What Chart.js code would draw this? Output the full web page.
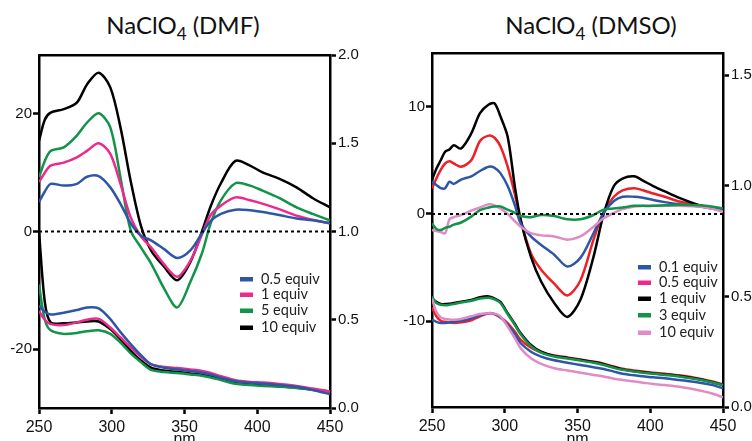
<!DOCTYPE html>
<html>
<head>
<meta charset="utf-8">
<script src="https://cdn.jsdelivr.net/npm/chart.js@4.4.0/dist/chart.umd.min.js"></script>
<style>
  body { margin: 0; background: #fff; }
  #wrap { position: relative; width: 752px; height: 441px; overflow: hidden; }
  canvas { position: absolute; top: 0; }
  .title { position: absolute; top: 10px; font-family: Lato, sans-serif; font-size: 24px; color: #111;
           white-space: nowrap; transform: translateX(-50%); line-height: normal; }
  .title sub { font-size: 17px; vertical-align: -6px; line-height: 0; }
</style>
</head>
<body>
<div id="wrap">
  <div class="title" style="left:183px">NaClO<sub>4</sub> (DMF)</div>
  <div class="title" style="left:591px">NaClO<sub>4</sub> (DMSO)</div>
  <canvas id="dmf" width="376" height="441" style="left:0"></canvas>
  <canvas id="dmso" width="376" height="441" style="left:376px"></canvas>
</div>
<script>
// ---- DMF panel (wavelength grid, CD in mdeg on left axis, absorbance on right axis)
const dmfNm = [250, 254, 258, 267, 276, 283, 291, 299, 306, 313, 320, 327, 336, 345, 354, 362, 368, 375, 385, 395, 404, 415, 427, 438, 450];
const dmfCd05 = [5.0, 6.8, 8.1, 7.8, 8.1, 9.3, 9.4, 7.5, 4.7, 1.4, -0.7, -1.5, -3.0, -4.5, -3.2, -0.3, 1.8, 3.0, 3.7, 3.6, 3.3, 2.8, 2.2, 1.9, 1.4];
const dmfCd1 = [8.4, 10.0, 11.2, 11.7, 12.6, 13.7, 15.0, 13.2, 8.1, 2.4, -0.8, -2.7, -5.6, -7.7, -5.0, -0.5, 2.8, 4.4, 5.8, 5.3, 4.7, 3.8, 2.7, 2.0, 1.4];
const dmfCd5 = [9.2, 12.0, 13.7, 14.3, 16.3, 18.5, 20.1, 17.7, 9.2, 0.2, -2.7, -5.4, -9.7, -12.9, -8.6, -3.7, 1.4, 5.3, 8.2, 7.8, 6.9, 5.7, 4.1, 3.0, 1.9];
const dmfCd10 = [15.4, 19.0, 20.2, 20.8, 21.9, 25.0, 27.0, 24.5, 17.7, 8.6, 1.0, -3.2, -6.0, -8.3, -5.2, 0.0, 4.3, 8.2, 12.0, 11.2, 10.0, 9.0, 7.5, 5.7, 4.1];
const dmfAbs05 = [0.58, 0.545, 0.53, 0.54, 0.555, 0.57, 0.565, 0.504, 0.43, 0.362, 0.30, 0.248, 0.228, 0.218, 0.21, 0.20, 0.19, 0.172, 0.152, 0.143, 0.138, 0.13, 0.12, 0.102, 0.078];
const dmfAbs1 = [0.55, 0.50, 0.475, 0.47, 0.485, 0.50, 0.505, 0.456, 0.40, 0.343, 0.29, 0.248, 0.232, 0.226, 0.218, 0.21, 0.198, 0.18, 0.158, 0.148, 0.144, 0.136, 0.125, 0.11, 0.093];
const dmfAbs5 = [0.70, 0.50, 0.44, 0.42, 0.425, 0.435, 0.44, 0.42, 0.37, 0.31, 0.26, 0.216, 0.204, 0.198, 0.19, 0.183, 0.173, 0.158, 0.137, 0.13, 0.125, 0.12, 0.113, 0.103, 0.092];
const dmfAbs10 = [1.0, 0.60, 0.485, 0.48, 0.485, 0.49, 0.49, 0.447, 0.39, 0.324, 0.27, 0.229, 0.212, 0.205, 0.196, 0.188, 0.178, 0.163, 0.142, 0.134, 0.129, 0.123, 0.115, 0.105, 0.093];
const dmfLabels = ['0.5 equiv', '1 equiv', '5 equiv', '10 equiv'];

// ---- DMSO panel
const dmsoNm = [250, 253, 256, 259, 262, 265, 270, 277, 283, 289, 293, 297, 302, 307, 311, 318, 325, 334, 343, 352, 361, 368, 375, 381, 389, 395, 402, 410, 420, 434, 442, 450];
const dmsoCd01 = [3.0, 2.7, 2.4, 2.4, 3.0, 2.8, 3.2, 3.5, 4.0, 4.4, 4.3, 3.8, 2.6, 0.8, -0.9, -2.1, -2.9, -3.8, -4.9, -4.1, -1.8, 0.1, 1.2, 1.6, 1.6, 1.5, 1.3, 1.1, 0.9, 0.7, 0.5, 0.3];
const dmsoCd05 = [2.4, 3.3, 4.1, 4.7, 4.9, 4.7, 4.4, 5.0, 6.8, 7.3, 7.1, 6.3, 4.4, 1.8, -0.6, -3.7, -5.2, -6.5, -7.6, -6.2, -2.4, 0.2, 1.6, 2.2, 2.4, 2.2, 1.9, 1.6, 1.15, 0.8, 0.6, 0.4];
const dmsoCd1 = [3.2, 4.2, 5.0, 5.8, 6.0, 6.4, 6.1, 7.5, 9.4, 10.2, 10.3, 9.1, 7.2, 2.5, -0.6, -4.0, -6.3, -8.3, -9.6, -8.0, -4.0, 0.0, 2.6, 3.3, 3.5, 3.1, 2.6, 2.1, 1.5, 0.8, 0.6, 0.4];
const dmsoCd3 = [-0.9, -1.4, -1.5, -1.3, -1.2, -1.0, -0.8, -0.25, 0.35, 0.6, 0.7, 0.7, 0.4, 0.1, -0.2, -0.3, -0.1, -0.2, -0.5, -0.5, -0.1, 0.4, 0.5, 0.6, 0.75, 0.75, 0.75, 0.8, 0.85, 0.8, 0.7, 0.5];
const dmsoCd10 = [-1.5, -1.6, -1.7, -1.8, -0.5, -0.3, -0.1, 0.3, 0.6, 0.9, 0.8, 0.5, 0.0, -0.7, -1.2, -1.8, -2.0, -2.1, -2.4, -2.1, -1.2, -0.4, 0.1, 0.45, 0.7, 0.75, 0.75, 0.75, 0.75, 0.7, 0.5, 0.2];
const dmsoAbs01 = [0.394, 0.385, 0.38, 0.38, 0.382, 0.385, 0.39, 0.40, 0.415, 0.424, 0.42, 0.405, 0.371, 0.33, 0.288, 0.25, 0.228, 0.211, 0.20, 0.19, 0.18, 0.172, 0.16, 0.15, 0.143, 0.139, 0.134, 0.13, 0.122, 0.11, 0.10, 0.085];
const dmsoAbs05 = [0.45, 0.41, 0.39, 0.385, 0.382, 0.38, 0.383, 0.392, 0.41, 0.424, 0.42, 0.405, 0.379, 0.34, 0.303, 0.268, 0.247, 0.233, 0.224, 0.215, 0.205, 0.196, 0.183, 0.173, 0.165, 0.16, 0.155, 0.15, 0.143, 0.128, 0.116, 0.102];
const dmsoAbs1 = [0.49, 0.475, 0.466, 0.465, 0.467, 0.47, 0.476, 0.484, 0.496, 0.50, 0.49, 0.475, 0.424, 0.375, 0.333, 0.28, 0.25, 0.231, 0.222, 0.213, 0.203, 0.193, 0.18, 0.17, 0.162, 0.157, 0.152, 0.147, 0.14, 0.125, 0.113, 0.10];
const dmsoAbs3 = [0.50, 0.47, 0.462, 0.46, 0.462, 0.465, 0.472, 0.48, 0.49, 0.494, 0.486, 0.47, 0.42, 0.37, 0.328, 0.275, 0.246, 0.228, 0.219, 0.21, 0.20, 0.19, 0.177, 0.168, 0.16, 0.155, 0.15, 0.145, 0.138, 0.123, 0.112, 0.099];
const dmsoAbs10 = [0.49, 0.43, 0.405, 0.398, 0.395, 0.394, 0.398, 0.41, 0.42, 0.424, 0.422, 0.41, 0.363, 0.31, 0.265, 0.22, 0.195, 0.175, 0.165, 0.155, 0.145, 0.138, 0.128, 0.122, 0.115, 0.11, 0.104, 0.099, 0.092, 0.075, 0.062, 0.044];
const dmsoLabels = ['0.1 equiv', '0.5 equiv', '1 equiv', '3 equiv', '10 equiv'];

// ---- tick labels
const nmTicks = [250, 300, 350, 400, 450];
const dmfCdTicks = [-20, 0, 20];
const dmfAbsTicks = [0, 0.5, 1, 1.5, 2];
const dmsoCdTicks = [-10, 0, 10];
const dmsoAbsTicks = [0, 0.5, 1, 1.5];

const BLUE = '#2f56a6', MAGENTA = '#ec2a8c', GREEN = '#12934a', BLACK = '#000', RED = '#ee2027', LPINK = '#e08bc5';

const toXY = (xs, ys) => xs.map((x, i) => ({ x: x, y: ys[i] }));

function line(xs, ys, color, axis) {
  return { data: toXY(xs, ys), borderColor: color, borderWidth: 2.5, pointRadius: 0,
           tension: 0.3, fill: false, yAxisID: axis };
}

function zeroLine(xs) {
  return { data: [{ x: xs[0], y: 0 }, { x: xs[xs.length - 1], y: 0 }], borderColor: '#000',
           borderWidth: 2, borderDash: [3, 3], pointRadius: 0, yAxisID: 'y' };
}

// legend drawn inside the plot
const insetLegend = {
  id: 'insetLegend',
  afterDatasetsDraw(chart, args, opts) {
    const ctx = chart.ctx;
    ctx.save();
    ctx.font = '14.5px Lato';
    ctx.textBaseline = 'middle';
    opts.labels.forEach((t, i) => {
      const y = opts.rows[i];
      ctx.fillStyle = opts.colors[i];
      ctx.fillRect(opts.x, y - 2, 13, 4.5);
      ctx.fillStyle = '#222';
      ctx.fillText(t, opts.x + 21, y);
    });
    ctx.restore();
  }
};

function yAxis(pos, min, max, ticks, width, fmt) {
  return {
    type: 'linear', position: pos, min: min, max: max,
    afterBuildTicks: s => { s.ticks = ticks.map(v => ({ value: v })); },
    afterFit: s => { s.width = width; },
    ticks: { font: { family: 'Liberation Sans', size: 15 }, color: '#111',
             padding: pos === 'left' ? 1 : 2, callback: fmt },
    grid: { drawOnChartArea: false, tickLength: 6, tickWidth: 2.5, tickColor: '#000' },
    border: { color: '#000', width: 2.5 }
  };
}

function makeChart(id, g) {
  return new Chart(document.getElementById(id), {
    type: 'line',
    data: { datasets: g.datasets },
    plugins: [insetLegend],
    options: {
      responsive: false, animation: false, devicePixelRatio: 1, events: [],
      layout: { padding: { top: g.top, left: 0, right: 0, bottom: 0 } },
      plugins: {
        legend: { display: false }, tooltip: { enabled: false },
        insetLegend: g.legend
      },
      scales: {
        x: {
          type: 'linear', min: 250, max: 450,
          afterBuildTicks: s => { s.ticks = nmTicks.map(v => ({ value: v })); },
          afterFit: s => { s.height = g.bottom; },
          ticks: { font: { family: 'Liberation Sans', size: 16 }, color: '#111', padding: 4 },
          grid: { drawOnChartArea: false, tickLength: 6, tickWidth: 2.5, tickColor: '#000' },
          border: { color: '#000', width: 2.5 },
          title: { display: true, text: 'nm', color: '#111', font: { family: 'Liberation Sans', size: 16 },
                   padding: { top: 0, bottom: -8 } }
        },
        x2: {
          type: 'linear', position: 'top', min: 250, max: 450,
          afterFit: s => { s.height = 0; },
          ticks: { display: false }, grid: { display: false },
          border: { color: '#000', width: 2.5 }
        },
        y: yAxis('left', g.cdMin, g.cdMax, g.cdTicks, g.leftW, v => String(v)),
        y2: yAxis('right', 0, g.absMax, g.absTicks, g.rightW, v => v.toFixed(1))
      }
    }
  });
}

makeChart('dmf', {
  top: 55, bottom: 33, leftW: 39, rightW: 46,
  cdMin: -30, cdMax: 30, cdTicks: dmfCdTicks, absMax: 2, absTicks: dmfAbsTicks,
  datasets: [
    zeroLine(dmfNm),
    line(dmfNm, dmfAbs05, BLUE, 'y2'), line(dmfNm, dmfAbs1, MAGENTA, 'y2'),
    line(dmfNm, dmfAbs5, GREEN, 'y2'), line(dmfNm, dmfAbs10, BLACK, 'y2'),
    line(dmfNm, dmfCd05, BLUE, 'y'), line(dmfNm, dmfCd1, MAGENTA, 'y'),
    line(dmfNm, dmfCd5, GREEN, 'y'), line(dmfNm, dmfCd10, BLACK, 'y')
  ],
  legend: { x: 240, rows: [279, 294.5, 310.5, 327.5], labels: dmfLabels, colors: [BLUE, MAGENTA, GREEN, BLACK] }
});

makeChart('dmso', {
  top: 53, bottom: 34, leftW: 56, rightW: 29,
  cdMin: -18, cdMax: 15, cdTicks: dmsoCdTicks, absMax: 1.6, absTicks: dmsoAbsTicks,
  datasets: [
    zeroLine(dmsoNm),
    line(dmsoNm, dmsoAbs10, LPINK, 'y2'), line(dmsoNm, dmsoAbs01, BLUE, 'y2'),
    line(dmsoNm, dmsoAbs3, GREEN, 'y2'), line(dmsoNm, dmsoAbs1, BLACK, 'y2'),
    line(dmsoNm, dmsoAbs05, RED, 'y2'),
    line(dmsoNm, dmsoCd3, GREEN, 'y'), line(dmsoNm, dmsoCd10, LPINK, 'y'),
    line(dmsoNm, dmsoCd01, BLUE, 'y'), line(dmsoNm, dmsoCd1, BLACK, 'y'),
    line(dmsoNm, dmsoCd05, RED, 'y')
  ],
  legend: { x: 262, rows: [267, 282.5, 298.5, 315, 332.5], labels: dmsoLabels,
            colors: [BLUE, MAGENTA, BLACK, GREEN, LPINK] }
});
</script>
</body>
</html>
